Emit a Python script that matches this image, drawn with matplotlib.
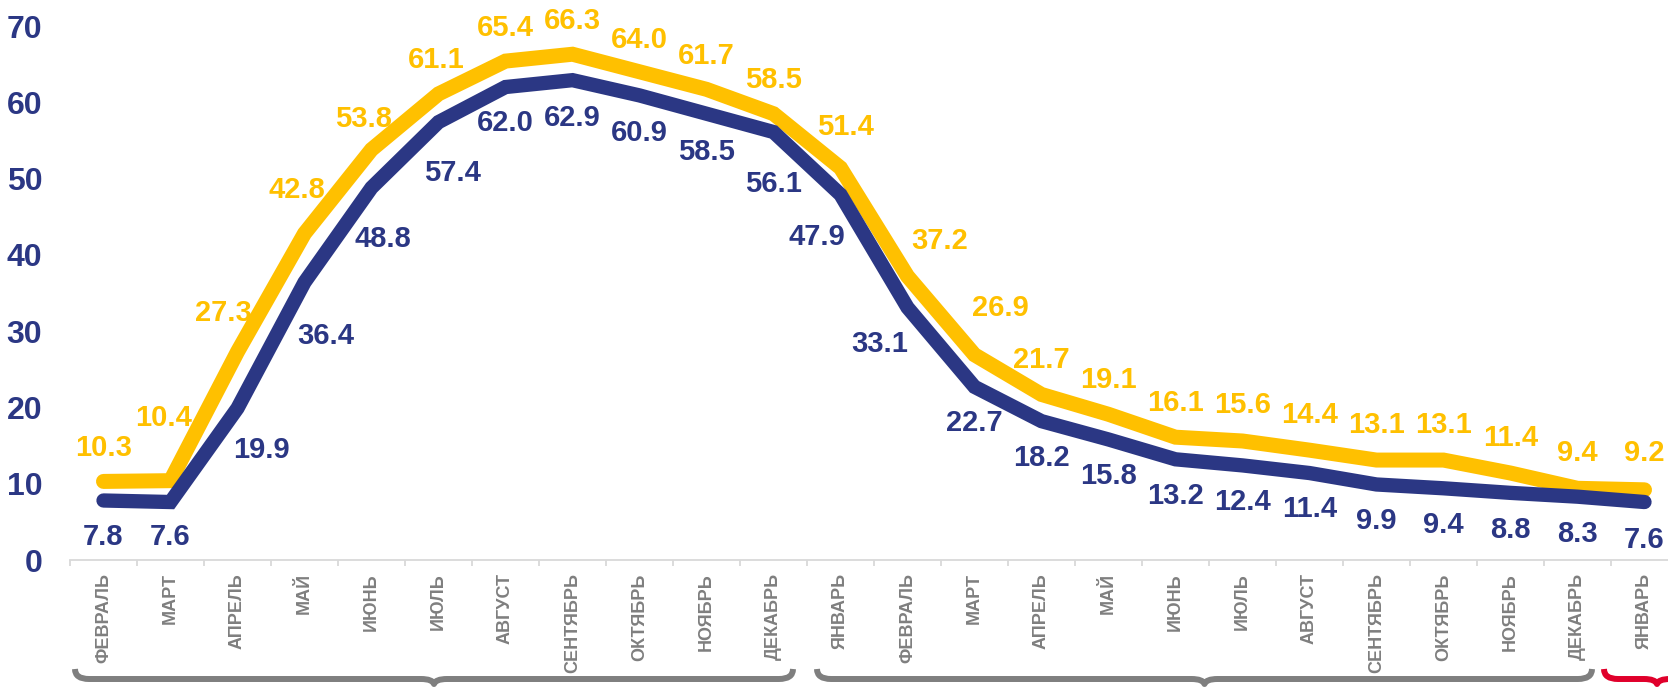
import numpy as np
import matplotlib
matplotlib.use("Agg")
import matplotlib.pyplot as plt
from matplotlib.path import Path
from matplotlib.patches import PathPatch
from matplotlib.transforms import IdentityTransform

# ---------------- data ----------------
months = ["ФЕВРАЛЬ", "МАРТ", "АПРЕЛЬ", "МАЙ", "ИЮНЬ", "ИЮЛЬ", "АВГУСТ", "СЕНТЯБРЬ",
          "ОКТЯБРЬ", "НОЯБРЬ", "ДЕКАБРЬ", "ЯНВАРЬ", "ФЕВРАЛЬ", "МАРТ", "АПРЕЛЬ", "МАЙ",
          "ИЮНЬ", "ИЮЛЬ", "АВГУСТ", "СЕНТЯБРЬ", "ОКТЯБРЬ", "НОЯБРЬ", "ДЕКАБРЬ", "ЯНВАРЬ"]
yellow_vals = [10.3, 10.4, 27.3, 42.8, 53.8, 61.1, 65.4, 66.3, 64.0, 61.7, 58.5, 51.4,
               37.2, 26.9, 21.7, 19.1, 16.1, 15.6, 14.4, 13.1, 13.1, 11.4, 9.4, 9.2]
navy_vals = [7.8, 7.6, 19.9, 36.4, 48.8, 57.4, 62.0, 62.9, 60.9, 58.5, 56.1, 47.9,
             33.1, 22.7, 18.2, 15.8, 13.2, 12.4, 11.4, 9.9, 9.4, 8.8, 8.3, 7.6]
y_ticks = [0, 10, 20, 30, 40, 50, 60, 70]
# brace groups: (first category, last category)
brace_groups = [(0, 10), (11, 22), (23, 23)]

# ---------------- style ----------------
NAVY = "#2B3784"
YELLOW = "#FFC000"
GRAY = "#7F7F7F"
RED = "#E0002B"
AXIS = "#D9D9D9"

# label offsets in pixels (style only)
yellow_dx = [0, -7, -14, -8, -8, -2, 0, 0, 0, 0, 0, 5, 32, 26, 0, 0, 0, 0, 0, 0, 0, 0, 0, 0]
yellow_dy = [33, 63, 39, 43, 31, 34, 33, 33, 32, 33, 34, 41, 35.5, 46.5, 34, 34, 34, 36,
             35, 35, 35, 35, 35, 37]
navy_dx = [0, 0, 24, 21, 11, 14, 0, 0, 0, 0, 0, -24, -27.5, 0, 0, 0, 0, 0, 0, 0, 0, 0, 0, 0]
navy_dy = [-36.5, -35, -42, -54, -51, -51, -36, -38, -38, -38.5, -52, -42, -36.6, -36.5,
           -37, -36.6, -36.7, -36.3, -36, -37, -37, -37, -37, -38]

plt.rcParams["font.family"] = ["Liberation Sans", "DejaVu Sans"]
plt.rcParams["font.weight"] = "bold"

W, H, DPI = 1668, 687, 100
fig = plt.figure(figsize=(W / DPI, H / DPI), dpi=DPI)
ax_left, ax_right = 70, 1678
ax_bottom, ax_top = 560, 26
ax = fig.add_axes([ax_left / W, (H - ax_bottom) / H,
                   (ax_right - ax_left) / W, (ax_bottom - ax_top) / H])

x = np.arange(len(months))
ax.set_xlim(-0.5, len(months) - 0.5)
ax.set_ylim(0, 70)

ax.plot(x, yellow_vals, color=YELLOW, lw=10.8, solid_capstyle="round",
        solid_joinstyle="miter", zorder=3, clip_on=False)
ax.plot(x, navy_vals, color=NAVY, lw=10.3, solid_capstyle="round",
        solid_joinstyle="miter", zorder=4, clip_on=False)

for i, v in enumerate(yellow_vals):
    ax.annotate(f"{v:.1f}", xy=(i, v), xytext=(yellow_dx[i], yellow_dy[i]),
                textcoords="offset pixels", ha="center", va="center",
                fontsize=21, fontweight="bold", color=YELLOW, annotation_clip=False, zorder=5)
for i, v in enumerate(navy_vals):
    ax.annotate(f"{v:.1f}", xy=(i, v), xytext=(navy_dx[i], navy_dy[i]),
                textcoords="offset pixels", ha="center", va="center",
                fontsize=21, fontweight="bold", color=NAVY, annotation_clip=False, zorder=5)

# axes styling
for s in ["left", "right", "top"]:
    ax.spines[s].set_visible(False)
ax.spines["bottom"].set_color(AXIS)
ax.spines["bottom"].set_linewidth(1.3)

ax.set_yticks(y_ticks)
ax.set_yticklabels([str(t) for t in y_ticks])
ax.tick_params(axis="y", length=0, pad=20, labelsize=23, labelcolor=NAVY)

ax.set_xticks(np.arange(-0.5, len(months), 1.0))
ax.set_xticklabels([])
ax.tick_params(axis="x", which="major", length=4, width=1.3, color=AXIS, direction="out")
ax.set_xticks(x, minor=True)
ax.set_xticklabels(months, minor=True, rotation=90, fontsize=13, fontweight="bold",
                   color=GRAY, va="top", ha="center")
ax.tick_params(axis="x", which="minor", length=0, pad=9.5)

# braces (drawn in pixel coordinates)
fig.canvas.draw()


def cat_px(c):
    return ax.transData.transform((c, 0))[0]


def brace(x0, x1, color):
    yb, yt, yc = 8.0, 18.0, 3.0
    r, w = 14.0, 13.0
    xm = (x0 + x1) / 2
    verts = [(x0, yt), (x0, yb), (x0 + r, yb),
             (xm - w, yb), (xm - 1.5, yb), (xm, yc),
             (xm + 1.5, yb), (xm + w, yb),
             (x1 - r, yb), (x1, yb), (x1, yt)]
    codes = [Path.MOVETO, Path.CURVE3, Path.CURVE3,
             Path.LINETO, Path.CURVE3, Path.CURVE3,
             Path.CURVE3, Path.CURVE3,
             Path.LINETO, Path.CURVE3, Path.CURVE3]
    p = PathPatch(Path(verts, codes), transform=IdentityTransform(), fill=False,
                  edgecolor=color, lw=4.3, capstyle="butt", joinstyle="round")
    fig.add_artist(p)


step = cat_px(1) - cat_px(0)
# gray braces slightly inset from the category boundaries, red one wider
b = brace_groups
brace(cat_px(b[0][0] - 0.5) + 5, cat_px(b[0][1] + 0.5) - 14, GRAY)
brace(cat_px(b[1][0] - 0.5) + 10, cat_px(b[1][1] + 0.5) - 19, GRAY)
brace(cat_px(b[2][0] - 0.5) - 7, cat_px(b[2][1] + 0.5) + 32, RED)

fig.savefig("out.png", dpi=DPI)
